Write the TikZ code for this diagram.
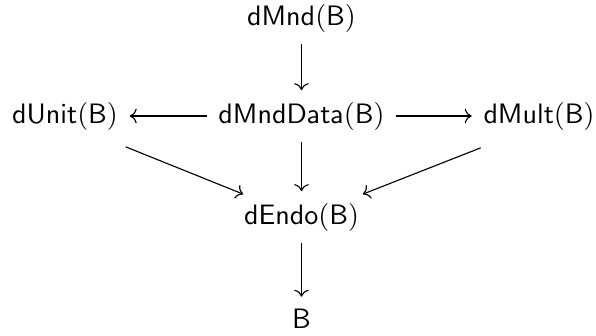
\documentclass[tikz,border=0pt]{standalone}
\usetikzlibrary{arrows.meta}
\begin{document}
\begin{tikzpicture}[x=0.356pt,y=-0.356pt,
  obj/.style={anchor=base,inner sep=4pt},
  arr/.style={-{Computer Modern Rightarrow},line width=0.4pt}]
\useasboundingbox (0,0) rectangle (596,335);
\node[obj] (mnd) at (301.5,25) {$\mathsf{dMnd}(\mathsf{B})$};
\node[obj] (data) at (301.5,123) {$\mathsf{dMndData}(\mathsf{B})$};
\node[obj] (unit) at (65,123) {$\mathsf{dUnit}(\mathsf{B})$};
\node[obj] (mult) at (539,123) {$\mathsf{dMult}(\mathsf{B})$};
\node[obj] (endo) at (301.5,224) {$\mathsf{dEndo}(\mathsf{B})$};
\node[obj] (b) at (301.5,328) {$\mathsf{B}$};
\draw[arr] (mnd) -- (data);
\draw[arr] (data) -- (endo);
\draw[arr] (endo) -- (b);
\draw[arr] (data.west) -- (unit.east);
\draw[arr] (data.east) -- (mult.west);
\draw[arr] ([shift={(-4,5)}]unit.south east) -- ([shift={(11,3)}]endo.north west);
\draw[arr] ([shift={(9,6)}]mult.south west) -- ([shift={(-8,3)}]endo.north east);
\end{tikzpicture}
\end{document}
